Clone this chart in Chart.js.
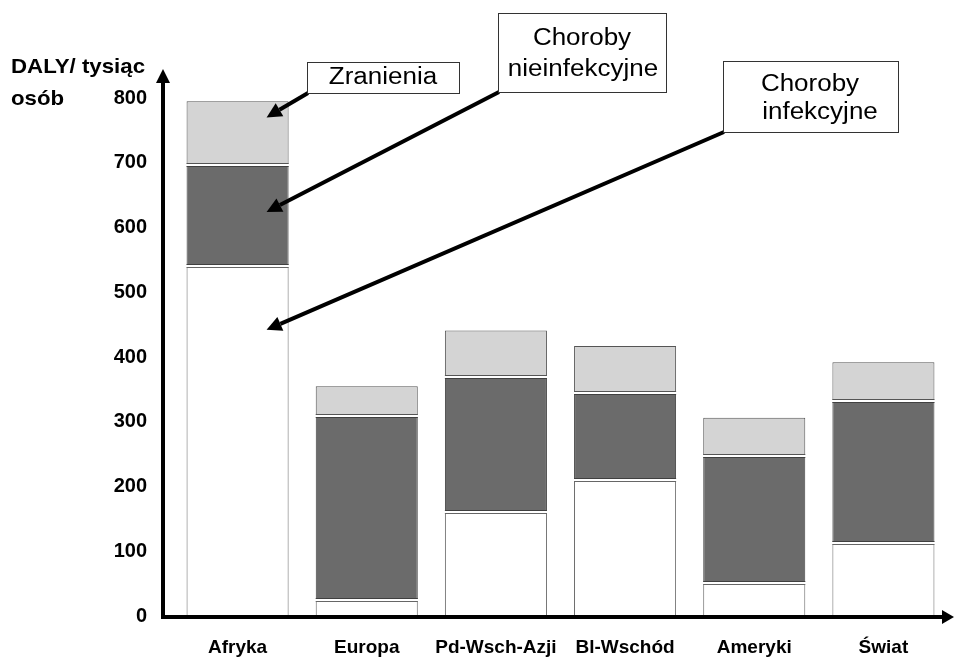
<!DOCTYPE html>
<html>
<head>
<meta charset="utf-8">
<script src="https://cdn.jsdelivr.net/npm/chart.js@4"></script>
<style>
    body { margin: 0; background: #fff; }
    #wrap { width: 954px; height: 658px; position: relative; }
</style>
</head>
<body>
<div id="wrap"><canvas id="dalyChart"></canvas></div>
<script>
const regions = ['Afryka', 'Europa', 'Pd-Wsch-Azji', 'Bl-Wschód', 'Ameryki', 'Świat'];
const infectious = [540, 25, 161, 210, 51, 112];
const nonInfectious = [156, 284, 208, 135, 196, 220];
const injuries = [99, 46, 72, 72, 59, 60];
const yTicks = [0, 100, 200, 300, 400, 500, 600, 700, 800];

// annotation boxes; arrows point at the Afryka bar (value level in the stack)
const callouts = [
    { lines: ['Zranienia'], box: [307, 62, 152, 31], text: [[383, 78]], target: 770 },
    { lines: ['Choroby', 'nieinfekcyjne'], box: [498, 13, 168, 79], text: [[582, 39], [583, 70]], target: 624 },
    { lines: ['Choroby', 'infekcyjne'], box: [723, 61, 175, 71], text: [[810, 85], [820, 113]], target: 442 }
];

function drawArrow(ctx, x1, y1, x2, y2, width, headLen, headHalf) {
    const ang = Math.atan2(y2 - y1, x2 - x1);
    const bx = x2 - Math.cos(ang) * headLen;
    const by = y2 - Math.sin(ang) * headLen;
    ctx.beginPath();
    ctx.moveTo(x1, y1);
    ctx.lineTo(bx, by);
    ctx.lineWidth = width;
    ctx.strokeStyle = '#000';
    ctx.stroke();
    ctx.beginPath();
    ctx.moveTo(x2, y2);
    ctx.lineTo(bx + Math.sin(ang) * headHalf, by - Math.cos(ang) * headHalf);
    ctx.lineTo(bx - Math.sin(ang) * headHalf, by + Math.cos(ang) * headHalf);
    ctx.closePath();
    ctx.fillStyle = '#000';
    ctx.fill();
}

const decorPlugin = {
    id: 'decor',
    afterDatasetsDraw(chart) {
        const ctx = chart.ctx;
        ctx.save();
        // small white gap between stacked segments
        [1, 2].forEach(di => {
            chart.getDatasetMeta(di).data.forEach(el => {
                const w = el.width;
                const left = el.x - w / 2;
                const base = Math.round(el.base);
                ctx.fillStyle = '#fff';
                ctx.fillRect(left - 1, base - 1, w + 2, 2);
                ctx.fillStyle = chart.data.datasets[di].borderColor;
                ctx.fillRect(left, base - 2, w, 1);
                ctx.fillStyle = chart.data.datasets[di - 1].borderColor;
                ctx.fillRect(left, base + 1, w, 1);
            });
        });
        ctx.restore();
    },
    afterDraw(chart) {
        const ctx = chart.ctx;
        const area = chart.chartArea;
        const xs = chart.scales.x;
        const ys = chart.scales.y;
        const axisX = area.left - 10;
        const axisY = ys.getPixelForValue(0) + 1;
        ctx.save();
        ctx.lineCap = 'butt';
        drawArrow(ctx, axisX, axisY + 2, axisX, 69, 4, 14, 7);
        drawArrow(ctx, axisX - 2, axisY, 954, axisY, 4, 12, 7);

        // y axis title
        ctx.fillStyle = '#000';
        ctx.font = 'bold 21px "Liberation Sans", Arial, sans-serif';
        ctx.textAlign = 'left';
        ctx.textBaseline = 'middle';
        ctx.save();
        ctx.translate(11, 67);
        ctx.scale(1.06, 1);
        ctx.fillText('DALY/ tysiąc', 0, 0);
        ctx.fillText('osób', 0, 32);
        ctx.restore();

        // callouts
        callouts.forEach(c => {
            const [bx, by, bw, bh] = c.box;
            const tipX = xs.getPixelForValue(0) + 29;
            const tipY = ys.getPixelForValue(c.target);
            drawArrow(ctx, bx + 1, by + bh, tipX, tipY, 4, 15, 7.5);
            ctx.fillStyle = '#fff';
            ctx.fillRect(bx, by, bw, bh);
            ctx.lineWidth = 1;
            ctx.strokeStyle = '#333';
            ctx.strokeRect(bx + 0.5, by + 0.5, bw, bh);
            ctx.fillStyle = '#000';
            ctx.font = '23px "Liberation Sans", Arial, sans-serif';
            ctx.textAlign = 'center';
            c.lines.forEach((t, k) => {
                const [tx, ty] = c.text[k];
                ctx.save();
                ctx.translate(tx, ty);
                ctx.scale(1.13, 1);
                ctx.fillText(t, 0, 0);
                ctx.restore();
            });
        });
        ctx.restore();
    }
};

new Chart(document.getElementById('dalyChart'), {
    type: 'bar',
    data: {
        labels: regions,
        datasets: [{
            label: 'Choroby infekcyjne',
            data: infectious,
            backgroundColor: '#ffffff',
            borderColor: '#666666',
            borderWidth: 1,
            borderSkipped: false
        }, {
            label: 'Choroby nieinfekcyjne',
            data: nonInfectious,
            backgroundColor: '#6b6b6b',
            borderColor: '#404040',
            borderWidth: 1,
            borderSkipped: false
        }, {
            label: 'Zranienia',
            data: injuries,
            backgroundColor: '#d4d4d4',
            borderColor: '#555555',
            borderWidth: 1,
            borderSkipped: false
        }]
    },
    options: {
        responsive: true,
        maintainAspectRatio: false,
        animation: false,
        datasets: {
            bar: { barPercentage: 0.79, categoryPercentage: 1 }
        },
        layout: { padding: { top: 98, right: 6, left: 0, bottom: 0 } },
        plugins: {
            legend: { display: false },
            tooltip: { enabled: false }
        },
        scales: {
            x: {
                stacked: true,
                grid: { display: false, drawTicks: false },
                border: { display: false },
                ticks: {
                    color: '#000',
                    padding: 20,
                    autoSkip: false,
                    maxRotation: 0,
                    font: { family: '"Liberation Sans", Arial, sans-serif', size: 19, weight: 'bold' }
                },
                afterFit: scale => { scale.height = 42; }
            },
            y: {
                stacked: true,
                min: 0,
                max: 800,
                grid: { display: false, drawTicks: false },
                border: { display: false },
                afterBuildTicks: scale => { scale.ticks = yTicks.map(v => ({ value: v })); },
                ticks: {
                    color: '#000',
                    padding: 26,
                    font: { family: '"Liberation Sans", Arial, sans-serif', size: 20, weight: 'bold' }
                },
                afterFit: scale => { scale.width = 173; }
            }
        }
    },
    plugins: [decorPlugin]
});
</script>
</body>
</html>
